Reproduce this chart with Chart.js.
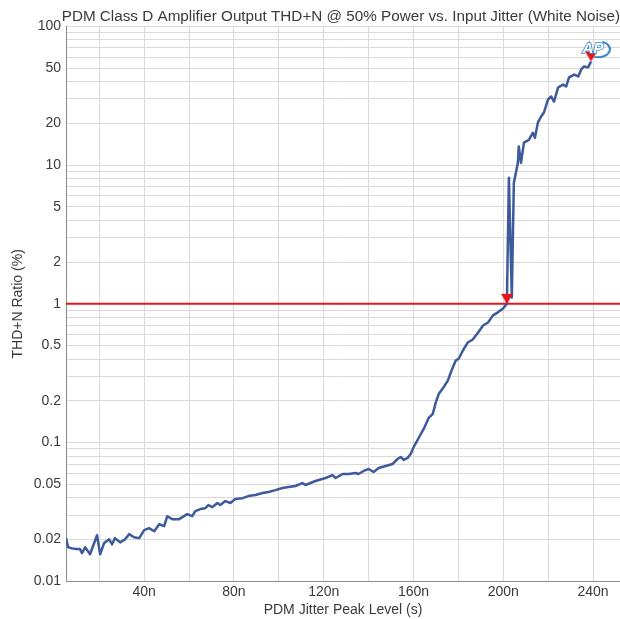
<!DOCTYPE html>
<html>
<head>
<meta charset="utf-8">
<script src="https://cdn.jsdelivr.net/npm/chart.js@4.4.0/dist/chart.umd.min.js"></script>
<style>
    html, body { margin: 0; padding: 0; background: #fff; }
    #wrap { width: 620px; height: 619px; }
</style>
</head>
<body>
<div id="wrap"><canvas id="thd-chart"></canvas></div>
<script>
// jitter peak level in ns, THD+N in %
const jitterNs = [5.2, 6.1, 7.9, 9.6, 11.4, 12.3, 13.7, 15.9, 19.0, 20.4,
    22.1, 24.4, 25.7, 27.0, 29.3, 31.5, 33.3, 35.5, 37.8, 40.0,
    42.2, 44.5, 46.7, 48.9, 50.3, 52.5, 55.6, 59.2, 61.4, 62.8,
    65.0, 67.2, 68.6, 70.4, 72.6, 73.9, 76.2, 78.4, 80.6, 83.8,
    86.4, 89.6, 92.7, 95.4, 98.5, 101.6, 104.3, 107.4, 110.5, 111.9,
    116.3, 120.8, 123.9, 125.3, 128.4, 131.1, 134.2, 135.5, 137.8, 140.0,
    142.2, 144.5, 147.6, 150.7, 152.9, 154.3, 155.6, 157.4, 158.8, 160.1,
    162.3, 164.6, 166.8, 168.6, 169.9, 171.3, 173.0, 175.3, 176.6, 178.8,
    180.2, 182.0, 184.2, 186.4, 188.8, 191.0, 193.2, 195.4, 197.6, 199.9,
    201.6, 202.5, 203.8, 204.7, 206.5, 206.9, 207.9, 209.2, 211.4, 213.2,
    214.1, 215.4, 216.8, 218.1, 219.9, 221.3, 222.6, 224.4, 226.6, 228.0,
    229.3, 231.6, 233.4, 234.7, 236.0, 237.8, 239.1];
const thdPct = [0.0205, 0.0176, 0.0173, 0.0171, 0.0171, 0.0160, 0.0176, 0.0157, 0.0215, 0.0157,
    0.0188, 0.0201, 0.0185, 0.0205, 0.0191, 0.0201, 0.0219, 0.0208, 0.0205, 0.0234,
    0.0242, 0.0230, 0.0258, 0.0250, 0.0295, 0.0281, 0.0281, 0.0305, 0.0295, 0.0321,
    0.0332, 0.0337, 0.0355, 0.0343, 0.0367, 0.0355, 0.0379, 0.0367, 0.0392, 0.0398,
    0.0412, 0.0419, 0.0433, 0.0441, 0.0455, 0.0471, 0.0479, 0.0487, 0.0511, 0.0495,
    0.0529, 0.0556, 0.0584, 0.0556, 0.0594, 0.0594, 0.0604, 0.0594, 0.0625, 0.0646,
    0.0614, 0.0657, 0.0679, 0.0702, 0.0762, 0.0788, 0.0750, 0.0776, 0.0830, 0.0932,
    0.108, 0.126, 0.151, 0.161, 0.194, 0.225, 0.245, 0.280, 0.320, 0.390,
    0.404, 0.461, 0.527, 0.554, 0.622, 0.698, 0.734, 0.826, 0.869, 0.927,
    1.00, 8.09, 1.11, 7.44, 10.4, 13.6, 10.4, 14.5, 15.2, 17.1,
    15.7, 20.2, 22.3, 23.9, 29.6, 31.2, 28.7, 36.2, 38.0, 36.8,
    42.8, 44.9, 43.5, 48.9, 51.4, 50.6, 55.8];

const limitPct = 1;
const markerNs = [201.6, 239.1];
const markerPct = [1.0, 55.8];

const xMin = 5.2, xMax = 252;
const xTicks = [20, 40, 60, 80, 100, 120, 140, 160, 180, 200, 220, 240];
const xLabelled = [40, 80, 120, 160, 200, 240];
const yTicks = [0.01, 0.02, 0.03, 0.04, 0.05, 0.06, 0.07, 0.08, 0.09,
    0.1, 0.2, 0.3, 0.4, 0.5, 0.6, 0.7, 0.8, 0.9,
    1, 2, 3, 4, 5, 6, 7, 8, 9,
    10, 20, 30, 40, 50, 60, 70, 80, 90, 100];
const yLabelled = [0.01, 0.02, 0.05, 0.1, 0.2, 0.5, 1, 2, 5, 10, 20, 50, 100];

const textColor = '#3a3a3a';
const font = 'Liberation Sans';

// down triangle with its tip at the centre of the image
function makeMarker() {
    const c = document.createElement('canvas');
    c.width = 14;
    c.height = 22;
    const g = c.getContext('2d');
    g.fillStyle = '#e8141b';
    g.beginPath();
    g.moveTo(1, 1);
    g.lineTo(13, 1);
    g.lineTo(7, 11);
    g.closePath();
    g.fill();
    return c;
}

const apLogo = {
    id: 'apLogo',
    afterDatasetsDraw(chart) {
        const { ctx, chartArea } = chart;
        const x = chartArea.right - 25, y = chartArea.top + 23;
        ctx.save();
        ctx.strokeStyle = '#3d86c6';
        ctx.lineWidth = 2;
        ctx.beginPath();
        ctx.ellipse(x + 3, y, 12, 8, 0, -1.2, 1.9);
        ctx.stroke();
        ctx.font = 'italic bold 15px ' + font;
        ctx.textAlign = 'center';
        ctx.textBaseline = 'middle';
        ctx.fillStyle = '#ffffff';
        ctx.strokeStyle = '#3d86c6';
        ctx.lineWidth = 1.6;
        ctx.strokeText('AP', x - 2, y);
        ctx.fillText('AP', x - 2, y);
        ctx.restore();
    }
};

const ctx = document.getElementById('thd-chart').getContext('2d');
new Chart(ctx, {
    type: 'line',
    data: {
        datasets: [
            {
                data: markerNs.map((x, i) => ({ x, y: markerPct[i] })),
                showLine: false,
                pointStyle: makeMarker(),
                pointRadius: 6,
                order: 0
            },
            {
                data: jitterNs.map((x, i) => ({ x, y: thdPct[i] })),
                borderColor: '#3d5a9a',
                borderWidth: 2.5,
                borderJoinStyle: 'round',
                pointRadius: 0,
                tension: 0,
                order: 1
            },
            {
                data: [{ x: xMin, y: limitPct }, { x: xMax, y: limitPct }],
                borderColor: '#e8141b',
                borderWidth: 2,
                pointRadius: 0,
                order: 2
            }
        ]
    },
    options: {
        responsive: true,
        maintainAspectRatio: false,
        animation: false,
        layout: { autoPadding: false, padding: { left: 10, right: 0, top: 0, bottom: 0 } },
        plugins: {
            legend: { display: false },
            tooltip: { enabled: false },
            title: {
                display: true,
                text: 'PDM Class D Amplifier Output THD+N @ 50% Power vs. Input Jitter (White Noise)',
                color: textColor,
                align: 'end',
                font: { family: font, size: 15.25, weight: 'normal' },
                padding: { top: 8, bottom: 0 }
            }
        },
        scales: {
            x: {
                type: 'linear',
                min: xMin,
                max: xMax,
                afterBuildTicks: (scale) => {
                    scale.ticks = xTicks.map(v => ({ value: v }));
                },
                ticks: {
                    autoSkip: false,
                    maxRotation: 0,
                    padding: 2,
                    color: textColor,
                    font: { family: font, size: 14 },
                    callback: (v) => xLabelled.includes(v) ? v + 'n' : ''
                },
                grid: { color: '#dadada', drawTicks: false },
                border: { color: '#8a8a8a', width: 1 },
                title: {
                    display: true,
                    text: 'PDM Jitter Peak Level (s)',
                    color: textColor,
                    font: { family: font, size: 14 },
                    padding: { top: 0, bottom: 0 }
                }
            },
            y: {
                type: 'logarithmic',
                min: 0.01,
                max: 100,
                afterBuildTicks: (scale) => {
                    scale.ticks = yTicks.map(v => ({ value: v }));
                },
                ticks: {
                    autoSkip: false,
                    padding: 5,
                    color: textColor,
                    font: { family: font, size: 14 },
                    callback: (v) => yLabelled.includes(v) ? String(v) : ''
                },
                grid: { color: '#dadada', drawTicks: false },
                border: { color: '#8a8a8a', width: 1 },
                title: {
                    display: true,
                    text: 'THD+N Ratio (%)',
                    color: textColor,
                    font: { family: font, size: 14 },
                    padding: { top: 0, bottom: 2 }
                }
            }
        }
    },
    plugins: [apLogo]
});
</script>
</body>
</html>
